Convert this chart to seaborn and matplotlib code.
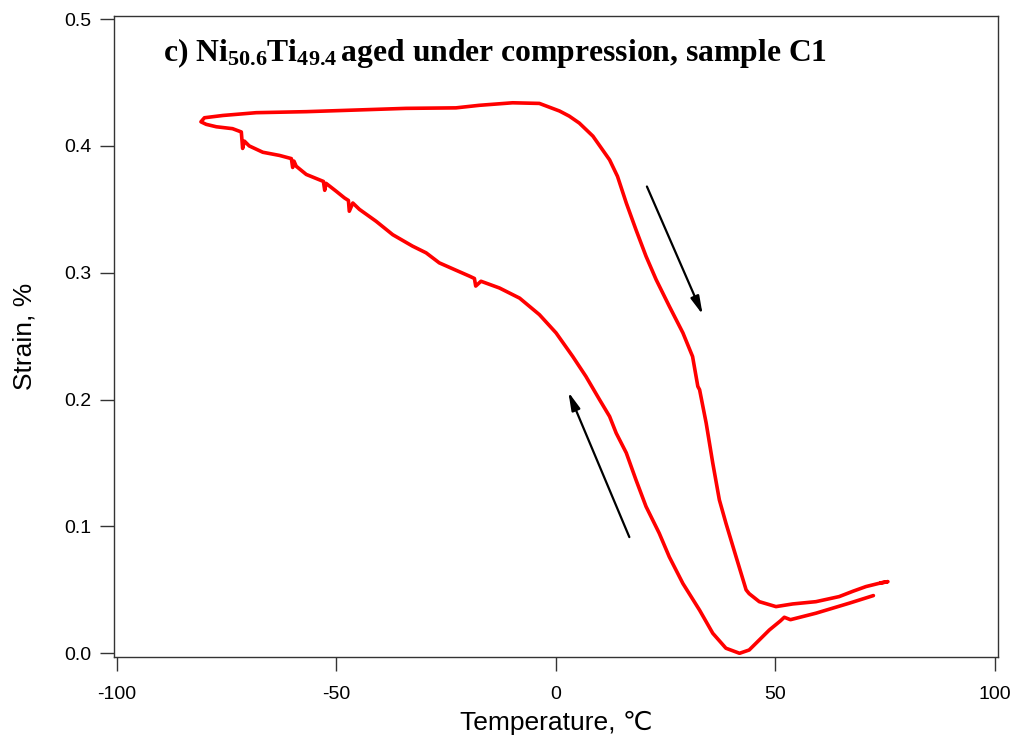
import matplotlib
matplotlib.use("Agg")
import matplotlib.pyplot as plt
import seaborn as sns
import pandas as pd
import numpy as np

# Cooling branch (from high temperature end to low temperature turnaround)
cool_T = [72.4, 66.9, 59.3, 53.5, 52.1, 51.2, 48.7, 46.4, 44.1, 41.9, 38.8, 35.8, 32.8, 29.0,
          25.9, 23.6, 20.6, 18.3, 16.1, 13.8, 12.3, 10.0, 6.9, 3.9, 0.1, -3.7, -8.2, -12.8,
          -17.0, -18.2, -18.5, -19.6, -22.7, -26.5, -29.5, -32.6, -37.1, -40.9, -44.7, -46.2,
          -47.0, -47.2, -48.1, -50.0, -52.3, -52.6, -52.9, -56.8, -59.1, -59.6, -59.9, -60.2,
          -62.9, -66.7, -69.8, -70.9, -71.3, -71.6, -73.6, -77.3, -79.6, -80.8]
cool_S = [0.0455, 0.0395, 0.0316, 0.0265, 0.0284, 0.0255, 0.0184, 0.0105, 0.0026, 0.0, 0.004,
          0.0158, 0.034, 0.055, 0.076, 0.0947, 0.1157, 0.1368, 0.158, 0.1736, 0.1867, 0.200,
          0.2183, 0.234, 0.2526, 0.2670, 0.280, 0.288, 0.2933, 0.2895, 0.2955, 0.2973, 0.302,
          0.3078, 0.3157, 0.321, 0.330, 0.3406, 0.350, 0.355, 0.3485, 0.357, 0.359, 0.3643,
          0.3705, 0.3650, 0.3720, 0.3775, 0.384, 0.388, 0.383, 0.390, 0.3925, 0.395, 0.400,
          0.4038, 0.398, 0.4110, 0.4136, 0.4151, 0.417, 0.419]

# Heating branch (from low temperature turnaround to high temperature end)
heat_T = [-80.8, -80.0, -75.8, -68.2, -56.8, -45.4, -34.1, -22.7, -17.4, -9.8, -3.7, 0.9, 3.1,
          5.4, 8.5, 12.3, 14.1, 16.1, 18.3, 20.6, 22.9, 25.9, 29.0, 31.2, 32.4, 32.8, 34.3,
          35.8, 37.3, 38.8, 41.1, 43.4, 44.1, 46.4, 50.2, 54.0, 59.3, 64.6, 67.8, 70.7, 73.5,
          75.7, 74.0]
heat_S = [0.419, 0.4222, 0.424, 0.4262, 0.427, 0.4283, 0.4296, 0.430, 0.432, 0.434, 0.4335,
          0.4275, 0.4235, 0.418, 0.4077, 0.389, 0.376, 0.355, 0.334, 0.313, 0.2946, 0.2736,
          0.2526, 0.234, 0.2104, 0.2078, 0.1815, 0.150, 0.121, 0.1026, 0.0762, 0.050, 0.047,
          0.0407, 0.0368, 0.0389, 0.0407, 0.0447, 0.0490, 0.0526, 0.0550, 0.0565, 0.0555]

# Arrows: (tail T, tail S, head T, head S)
arrow_heat = (20.8, 0.368, 33.5, 0.267)
arrow_cool = (16.8, 0.0916, 2.9, 0.206)

x_ticks = [-100, -50, 0, 50, 100]
y_ticks = [0.0, 0.1, 0.2, 0.3, 0.4, 0.5]

sns.set_style("white")
plt.rcParams['font.family'] = ['Liberation Sans', 'DejaVu Sans']
plt.rcParams['axes.unicode_minus'] = False
plt.rcParams['text.color'] = 'black'
plt.rcParams['axes.labelcolor'] = 'black'
plt.rcParams['mathtext.fontset'] = 'custom'
plt.rcParams['mathtext.rm'] = 'Liberation Serif:bold'
plt.rcParams['mathtext.it'] = 'Liberation Serif:bold'
plt.rcParams['mathtext.bf'] = 'Liberation Serif:bold'

df = pd.DataFrame({
    "T": cool_T + heat_T,
    "S": cool_S + heat_S,
})

fig = plt.figure(figsize=(10.18, 7.45), dpi=100)
ax = fig.add_axes([0.112, 0.1185, 0.868, 0.8605])

sns.lineplot(data=df, x="T", y="S", sort=False, estimator=None, color="#ff0000",
             linewidth=2.6, ax=ax)

for (t0, s0, t1, s1) in (arrow_heat, arrow_cool):
    ax.annotate("", xy=(t1, s1), xytext=(t0, s0),
                arrowprops=dict(arrowstyle="-|>,head_length=0.9,head_width=0.22",
                                color="black", lw=1.6, shrinkA=0, shrinkB=0,
                                mutation_scale=12))

ax.set_xlim(-100.6, 100.7)
ax.set_ylim(-0.0027, 0.5027)
ax.set_xticks(x_ticks)
ax.set_xticklabels([str(v) for v in x_ticks])
ax.set_yticks(y_ticks)
ax.set_yticklabels([f"{v:.1f}" for v in y_ticks])
ax.tick_params(axis="both", direction="out", length=10, width=1, color="#333333",
               labelsize=14, labelcolor="black", left=True, bottom=True)
ax.tick_params(axis="x", pad=11)
ax.tick_params(axis="y", pad=6)
for sp in ax.spines.values():
    sp.set_color("#333333")
    sp.set_linewidth(1.0)

ax.set_xlabel("Temperature, \u2103", fontsize=19, labelpad=6)
ax.set_ylabel("Strain, %", fontsize=19, labelpad=20)

ax.text(0.055, 0.969, r"c) Ni$_{50.6}$Ti$_{49.4}\,$aged under compression, sample C1",
        transform=ax.transAxes, fontsize=22.8, fontweight="bold", color="black",
        family="Liberation Serif", va="top", ha="left")

fig.savefig("out.png", dpi=100)
